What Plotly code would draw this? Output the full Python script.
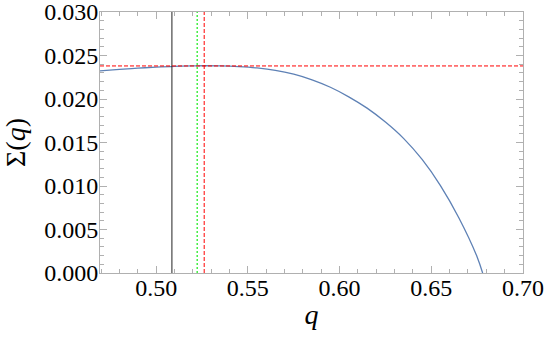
import plotly.graph_objects as go

# curve Sigma(q)
q = [0.469, 0.48, 0.49, 0.50, 0.51, 0.52, 0.526, 0.535, 0.545, 0.555, 0.565,
     0.575, 0.585, 0.595, 0.605, 0.615, 0.625, 0.635, 0.645, 0.655, 0.665,
     0.675, 0.678]
sigma = [0.02322, 0.02340, 0.02354, 0.02366, 0.02375, 0.02380, 0.02382,
         0.02380, 0.02372, 0.02357, 0.02330, 0.02285, 0.02220, 0.02135,
         0.02025, 0.01895, 0.01735, 0.01545, 0.01305, 0.01005, 0.00635,
         0.00185, 0.0]

q_black = 0.5086
q_green = 0.5224
q_red = 0.5262
sigma_max = 0.02380

x_range = [0.4694, 0.70]
y_range = [0.0, 0.030]
x_ticks = [0.50, 0.55, 0.60, 0.65, 0.70]
y_ticks = [0.000, 0.005, 0.010, 0.015, 0.020, 0.025, 0.030]

serif = "Liberation Serif, Times New Roman, serif"

fig = go.Figure()
fig.add_trace(go.Scatter(x=q, y=sigma, mode="lines", line_shape="spline",
                         line=dict(color="#5e81b5", width=1.3), showlegend=False))

fig.add_vline(x=q_black, line=dict(color="#222222", width=1))
fig.add_vline(x=q_green, line=dict(color="#44ee44", width=1.5, dash="2px,2px"))
fig.add_vline(x=q_red, line=dict(color="#ff0000", width=1, dash="4px,2px"))
fig.add_hline(y=sigma_max, line=dict(color="#ff0000", width=1, dash="4px,2px"))

axis_style = dict(showgrid=False, zeroline=False, showline=True, linecolor="#b0b0b0",
                  linewidth=1, mirror="ticks", ticks="inside", tickcolor="#b0b0b0",
                  ticklen=7, automargin=False, ticklabeloverflow="allow",
                  tickfont=dict(family=serif, size=24, color="black"))

fig.update_xaxes(range=x_range, tickvals=x_ticks, ticktext=[f"{v:.2f}" for v in x_ticks],
                 minor=dict(dtick=0.01, tick0=0.5, ticks="inside", ticklen=4, tickcolor="#b0b0b0"),
                 ticklabelstandoff=-7,
                 title=dict(text="<i>q</i>", font=dict(family=serif, size=28, color="black"),
                            standoff=4),
                 **axis_style)
fig.update_yaxes(range=y_range, tickvals=y_ticks, ticktext=[f"{v:.3f}" for v in y_ticks],
                 minor=dict(dtick=0.001, ticks="inside", ticklen=4, tickcolor="#b0b0b0"),
                 ticklabelstandoff=-4,
                 title=dict(text="Σ(<i>q</i>)", font=dict(family=serif, size=28, color="black"),
                            standoff=14),
                 **axis_style)

fig.update_layout(width=545, height=344, margin=dict(l=100, r=22, t=12, b=71),
                  plot_bgcolor="white", paper_bgcolor="white")

# drop the default page margin so the figure sits at the window's corner
fig.write_html("out.html", config={"displayModeBar": False},
               post_script="document.body.style.margin='0';")
